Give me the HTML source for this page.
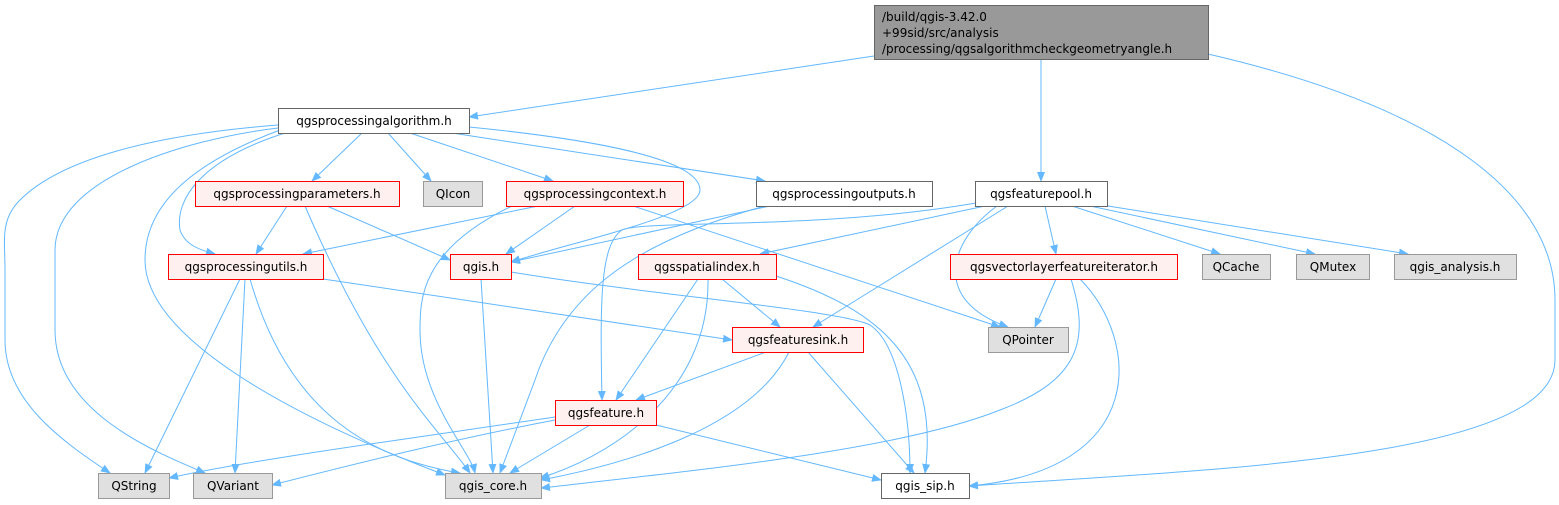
<!DOCTYPE html>
<html><head><meta charset="utf-8"><style>
html,body{margin:0;padding:0;background:#fff;}
svg{display:block;}
text{font-family:"DejaVu Sans","Liberation Sans",sans-serif;font-size:12px;fill:#000;}
.e{fill:none;stroke:#63b8ff;stroke-width:1;}
</style></head><body>
<svg width="1559" height="505" viewBox="0 0 1559 505" xmlns="http://www.w3.org/2000/svg">
<defs><marker id="a" markerWidth="10" markerHeight="8" refX="9" refY="4" orient="auto" markerUnits="userSpaceOnUse"><path d="M0,0 L10,4 L0,8 z" fill="#63b8ff"/></marker></defs>
<g class="e" marker-end="url(#a)">
<path d="M874,56 L469,117"/>
<path d="M1041,59 L1041,181"/>
<path d="M1208,54 C1450,110 1555,200 1555,300 L1555,360 C1555,460 1200,470 969,486"/>
<path d="M278,125 C150,135 60,160 20,200 C0,220 5,240 5,270 L5,340 C5,400 60,440 110,473"/>
<path d="M278,128 C180,140 55,180 55,250 L55,330 C55,410 150,450 205,473"/>
<path d="M280,130 C200,160 145,200 145,260 C145,340 300,420 445,475"/>
<path d="M285,133 C200,160 175,200 180,230 C185,245 200,250 215,254"/>
<path d="M362,133 L312,181"/>
<path d="M388,133 L431,181"/>
<path d="M410,133 L553,181"/>
<path d="M469,127 C600,140 700,160 700,190 C700,215 580,240 511,262"/>
<path d="M452,133 L765,181"/>
<path d="M287,206 L256,254"/>
<path d="M327,206 L450,260"/>
<path d="M305,206 C380,380 440,430 470,473"/>
<path d="M538,206 L303,254"/>
<path d="M575,206 L506,254"/>
<path d="M512,206 C420,250 420,300 420,330 C420,400 470,450 475,473"/>
<path d="M633,206 L1000,327"/>
<path d="M770,206 L511,262"/>
<path d="M765,206 C640,240 565,290 535,380 L500,473"/>
<path d="M976,203 C820,230 640,220 622,230 C600,245 600,300 602,400"/>
<path d="M985,206 L760,254"/>
<path d="M1008,206 L813,327"/>
<path d="M997,206 C950,240 930,300 1008,327"/>
<path d="M1045,206 L1056,254"/>
<path d="M1072,206 L1220,254"/>
<path d="M1090,206 L1315,254"/>
<path d="M1108,206 L1408,254"/>
<path d="M323,279 L732,340"/>
<path d="M240,279 L145,473"/>
<path d="M245,279 L235,473"/>
<path d="M250,279 C290,420 380,460 460,473"/>
<path d="M481,279 L493,473"/>
<path d="M511,272 C650,295 840,310 870,325 C900,345 910,420 910,473"/>
<path d="M698,279 L616,400"/>
<path d="M722,279 L780,327"/>
<path d="M708,279 C710,400 600,460 540,478"/>
<path d="M776,276 C880,310 940,360 925,473"/>
<path d="M766,352 L636,400"/>
<path d="M789,352 C750,430 620,465 541,480"/>
<path d="M808,352 L914,473"/>
<path d="M1056,279 L1035,327"/>
<path d="M1071,279 C1090,340 1080,380 1000,410 C900,450 700,470 541,488"/>
<path d="M1080,279 C1140,340 1150,470 969,486"/>
<path d="M555,417 C400,440 250,460 169,478"/>
<path d="M555,420 C450,440 350,465 272,485"/>
<path d="M590,425 L510,473"/>
<path d="M656,425 L881,480"/>
</g>
<g stroke-width="1">
<rect x="874.5" y="5.5" width="334" height="54" fill="#999" stroke="#666"/>
<rect x="278.5" y="108.5" width="191" height="25" fill="#fff" stroke="#666"/>
<rect x="195.5" y="181.5" width="204" height="25" fill="#fff0f0" stroke="#f00"/>
<rect x="423.5" y="181.5" width="59" height="25" fill="#e0e0e0" stroke="#999"/>
<rect x="506.5" y="181.5" width="177" height="25" fill="#fff0f0" stroke="#f00"/>
<rect x="756.5" y="181.5" width="176" height="25" fill="#fff" stroke="#666"/>
<rect x="975.5" y="181.5" width="132" height="25" fill="#fff" stroke="#666"/>
<rect x="168.5" y="254.5" width="155" height="25" fill="#fff0f0" stroke="#f00"/>
<rect x="450.5" y="254.5" width="61" height="25" fill="#fff0f0" stroke="#f00"/>
<rect x="638.5" y="254.5" width="138" height="25" fill="#fff0f0" stroke="#f00"/>
<rect x="950.5" y="254.5" width="227" height="25" fill="#fff0f0" stroke="#f00"/>
<rect x="1202.5" y="254.5" width="68" height="25" fill="#e0e0e0" stroke="#999"/>
<rect x="1296.5" y="254.5" width="73" height="25" fill="#e0e0e0" stroke="#999"/>
<rect x="1394.5" y="254.5" width="122" height="25" fill="#e0e0e0" stroke="#999"/>
<rect x="732.5" y="327.5" width="131" height="25" fill="#fff0f0" stroke="#f00"/>
<rect x="988.5" y="327.5" width="80" height="25" fill="#e0e0e0" stroke="#999"/>
<rect x="555.5" y="400.5" width="101" height="25" fill="#fff0f0" stroke="#f00"/>
<rect x="98.5" y="473.5" width="71" height="25" fill="#e0e0e0" stroke="#999"/>
<rect x="193.5" y="473.5" width="79" height="25" fill="#e0e0e0" stroke="#999"/>
<rect x="445.5" y="473.5" width="96" height="25" fill="#e0e0e0" stroke="#999"/>
<rect x="881.5" y="473.5" width="88" height="25" fill="#fff" stroke="#666"/>
</g>
<text x="882" y="21">/build/qgis-3.42.0</text>
<text x="882" y="37">+99sid/src/analysis</text>
<text x="882" y="53">/processing/qgsalgorithmcheckgeometryangle.h</text>
<g text-anchor="middle">
<text x="374" y="125">qgsprocessingalgorithm.h</text>
<text x="297" y="198">qgsprocessingparameters.h</text>
<text x="453" y="198">QIcon</text>
<text x="595" y="198">qgsprocessingcontext.h</text>
<text x="844" y="198">qgsprocessingoutputs.h</text>
<text x="1041" y="198">qgsfeaturepool.h</text>
<text x="246" y="271">qgsprocessingutils.h</text>
<text x="481" y="271">qgis.h</text>
<text x="707" y="271">qgsspatialindex.h</text>
<text x="1064" y="271">qgsvectorlayerfeatureiterator.h</text>
<text x="1236" y="271">QCache</text>
<text x="1333" y="271">QMutex</text>
<text x="1455" y="271">qgis_analysis.h</text>
<text x="798" y="344">qgsfeaturesink.h</text>
<text x="1028" y="344">QPointer</text>
<text x="606" y="417">qgsfeature.h</text>
<text x="134" y="490">QString</text>
<text x="233" y="490">QVariant</text>
<text x="493" y="490">qgis_core.h</text>
<text x="925" y="490">qgis_sip.h</text>
</g>
</svg>
</body></html>
